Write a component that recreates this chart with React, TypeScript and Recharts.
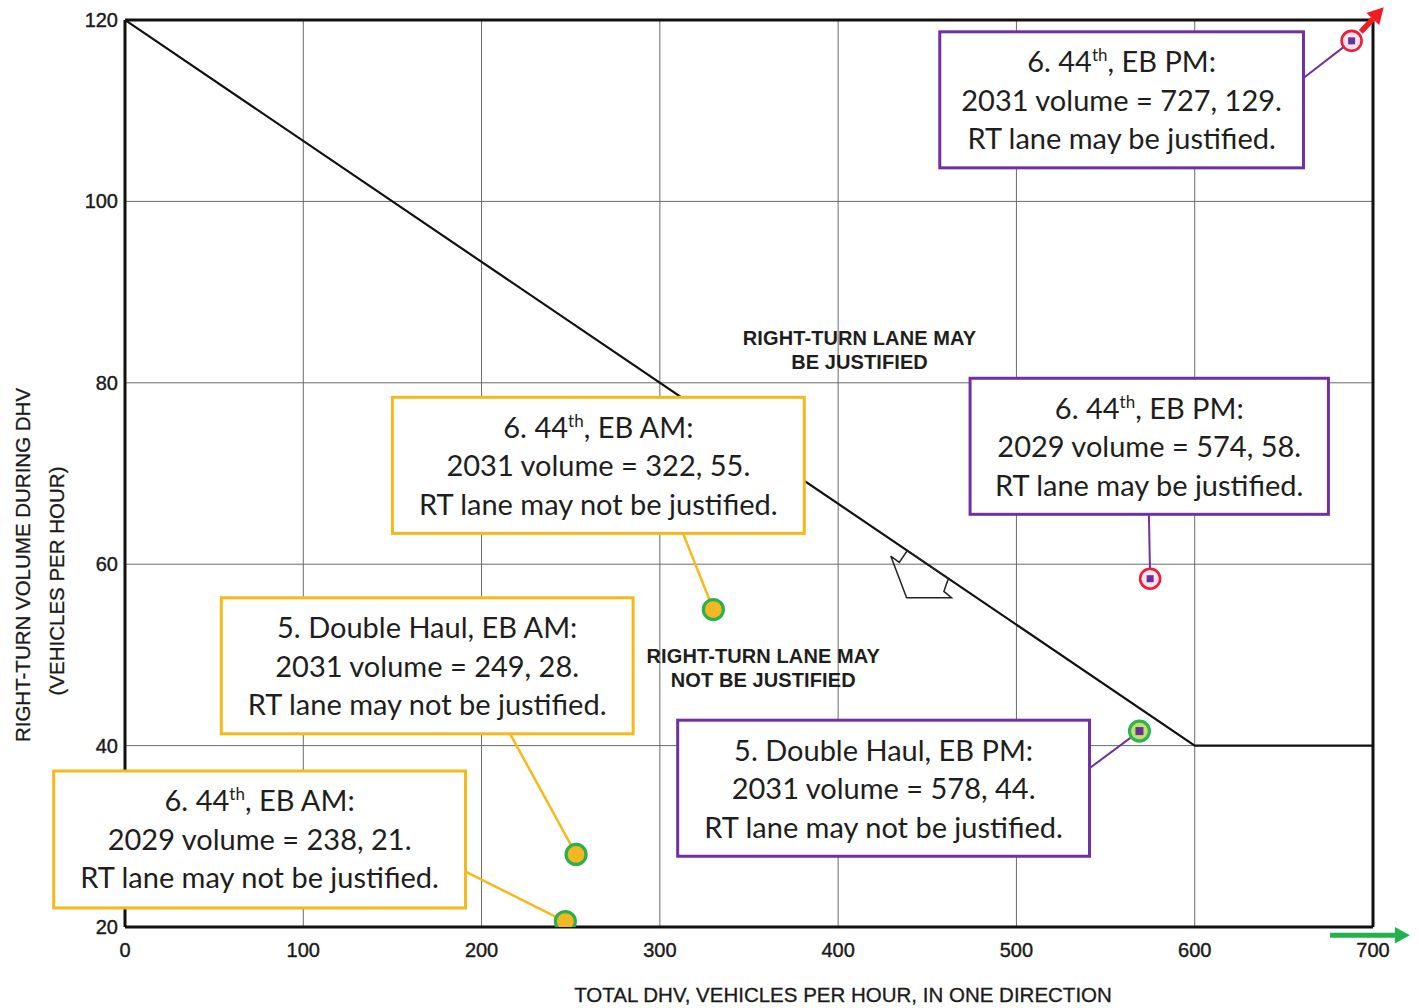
import React from "react";
import {
  ComposedChart, CartesianGrid, XAxis, YAxis, Line, Scatter,
  ReferenceArea, ReferenceLine, ReferenceDot,
} from "recharts";

const xTicks = [0, 100, 200, 300, 400, 500, 600, 700];
const yTicks = [20, 40, 60, 80, 100, 120];

// warrant boundary
const boundaryX = [0, 600, 700];
const boundaryY = [120, 40, 40];

// study points, as placed on the figure
const pointX = [688, 575, 569, 330, 253, 247];
const pointY = [117.7, 58.4, 41.6, 55, 28, 20.6];
const pointKind = ["red", "red", "pmGreen", "am", "am", "am"];

// callout boxes, one per point (same order)
const boxX1 = [457, 474, 310, 150, 54, -40];
const boxX2 = [661, 675, 541, 381, 285, 191];
const boxTop = [118.7, 80.5, 42.8, 78.4, 56.3, 37.2];
const boxBottom = [103.7, 65.5, 27.8, 63.4, 41.3, 22.1];
const boxColor = ["purple", "purple", "purple", "yellow", "yellow", "yellow"];
const boxHeadPre = ["6. 44", "6. 44", "5. Double Haul, EB PM:", "6. 44", "5. Double Haul, EB AM:", "6. 44"];
const boxHeadSup = ["th", "th", "", "th", "", "th"];
const boxHeadPost = [", EB PM:", ", EB PM:", "", ", EB AM:", "", ", EB AM:"];
const boxLine2 = [
  "2031 volume = 727, 129.",
  "2029 volume = 574, 58.",
  "2031 volume = 578, 44.",
  "2031 volume = 322, 55.",
  "2031 volume = 249, 28.",
  "2029 volume = 238, 21.",
];
const boxLine3 = [
  "RT lane may be justified.",
  "RT lane may be justified.",
  "RT lane may not be justified.",
  "RT lane may not be justified.",
  "RT lane may not be justified.",
  "RT lane may not be justified.",
];
const leaderX = [661, 574.3, 541, 313, 216, 191];
const leaderY = [113.6, 65.5, 37.5, 63.4, 41.3, 26.1];

// region notes
const regionX = [412, 358];
const regionY = [83.6, 48.6];
const regionLine1 = ["RIGHT-TURN LANE MAY", "RIGHT-TURN LANE MAY"];
const regionLine2 = ["BE JUSTIFIED", "NOT BE JUSTIFIED"];

// open pointer drawn against the boundary
const pointerX = [429.5, 434.3, 438.8, 461.8, 459.3, 463.6, 438.4, 429.5];
const pointerY = [60.9, 60.2, 61.5, 58.4, 57.0, 56.3, 56.3, 60.9];

// off-scale arrows: [x1, y1, x2, y2]
const redArrow = [693.2, 118.7, 706, 121.4];
const greenArrow = [675.9, 19.1, 720.7, 19.1];

const COLORS: Record<string, string> = { purple: "#7030a0", yellow: "#f6b91a" };
const BOX_FONT = "Lato, 'Open Sans', sans-serif";
const AXIS_FONT = "'Liberation Sans', Arial, sans-serif";

const boundary = boundaryX.map((x, i) => ({ x, y: boundaryY[i] }));
const pointer = pointerX.map((x, i) => ({ x, y: pointerY[i] }));
const points = pointX.map((x, i) => ({ x, y: pointY[i], kind: pointKind[i] }));

function XTick(p: any) {
  return (
    <text x={p.x} y={p.y} dy={30} textAnchor="middle" fontFamily={AXIS_FONT}
      fontSize={20} fill="#1a1a1a" stroke="#1a1a1a" strokeWidth={0.4}>
      {p.payload.value}
    </text>
  );
}

function YTick(p: any) {
  return (
    <text x={p.x - 7} y={p.y} dy={7} textAnchor="end" fontFamily={AXIS_FONT}
      fontSize={20} fill="#1a1a1a" stroke="#1a1a1a" strokeWidth={0.4}>
      {p.payload.value}
    </text>
  );
}

function PointMark(p: any) {
  const { cx, cy, payload } = p;
  if (payload.kind === "am") {
    return <circle cx={cx} cy={cy} r={10} fill="#f2b824" stroke="#2bb04a" strokeWidth={3.2} />;
  }
  if (payload.kind === "pmGreen") {
    return (
      <g>
        <circle cx={cx} cy={cy} r={10} fill="#bde36c" stroke="#2fb54b" strokeWidth={3.2} />
        <rect x={cx - 4} y={cy - 4} width={8} height={8} fill="#6a2fa0" />
      </g>
    );
  }
  return (
    <g>
      <circle cx={cx} cy={cy} r={10} fill="#fbe4ea" stroke="#ee1c3a" strokeWidth={2.6} />
      <rect x={cx - 3.5} y={cy - 3.5} width={7} height={7} fill="#6a2fa0" />
    </g>
  );
}

function makeBox(i: number) {
  return (p: any) => {
    const cx = p.x + p.width / 2;
    const t = { textAnchor: "middle" as const, fontFamily: BOX_FONT, fontSize: 29, fill: "#1e1e1e" };
    return (
      <g>
        <rect x={p.x} y={p.y} width={p.width} height={p.height} fill="#fff"
          stroke={COLORS[boxColor[i]]} strokeWidth={3} />
        <text x={cx} y={p.y + 40.5} {...t}>
          <tspan>{boxHeadPre[i]}</tspan>
          {boxHeadSup[i] && <tspan dy={-11} fontSize={17}>{boxHeadSup[i]}</tspan>}
          {boxHeadPost[i] && <tspan dy={boxHeadSup[i] ? 11 : 0}>{boxHeadPost[i]}</tspan>}
        </text>
        <text x={cx} y={p.y + 79} {...t}>{boxLine2[i]}</text>
        <text x={cx} y={p.y + 117.5} {...t}>{boxLine3[i]}</text>
      </g>
    );
  };
}

function makeArrow(color: string, width: number, head: number) {
  return (p: any) => {
    const { x1, y1, x2, y2 } = p;
    const a = Math.atan2(y2 - y1, x2 - x1);
    const bx = x2 - head * Math.cos(a);
    const by = y2 - head * Math.sin(a);
    const nx = -Math.sin(a) * head * 0.55;
    const ny = Math.cos(a) * head * 0.55;
    return (
      <g>
        <line x1={x1} y1={y1} x2={bx} y2={by} stroke={color} strokeWidth={width} />
        <polygon points={`${x2},${y2} ${bx + nx},${by + ny} ${bx - nx},${by - ny}`} fill={color} />
      </g>
    );
  };
}

function makeRegion(i: number) {
  return (p: any) => {
    const t = {
      textAnchor: "middle" as const, fontFamily: AXIS_FONT, fontSize: 20, fontWeight: 700,
      fill: "#1e1e1e", letterSpacing: 0.1,
    };
    return (
      <g>
        <text x={p.cx} y={p.cy - 5} {...t}>{regionLine1[i]}</text>
        <text x={p.cx} y={p.cy + 19} {...t}>{regionLine2[i]}</text>
      </g>
    );
  };
}

export default function App() {
  const titleStyle: React.CSSProperties = {
    position: "absolute", whiteSpace: "nowrap", fontFamily: AXIS_FONT,
    fontSize: 20.5, color: "#1a1a1a", lineHeight: 1, WebkitTextStroke: "0.3px #1a1a1a",
  };
  return (
    <div style={{ position: "absolute", left: 0, top: 0, width: 1419, height: 1008, background: "#fff" }}>
      <ComposedChart width={1419} height={1008} margin={{ top: 20, right: 46, bottom: 0, left: 0 }}>
        <CartesianGrid stroke="#6a6a6a" strokeWidth={1} zIndex={-100} />
        <XAxis dataKey="x" type="number" domain={[0, 700]} ticks={xTicks} allowDataOverflow
          height={81} tickSize={0} tickMargin={0} tick={<XTick />} tickLine={false}
          axisLine={{ stroke: "#111", strokeWidth: 3 }} />
        <YAxis dataKey="y" type="number" domain={[20, 120]} ticks={yTicks} allowDataOverflow
          width={125} tickSize={0} tickMargin={0} tick={<YTick />} tickLine={false}
          axisLine={{ stroke: "#111", strokeWidth: 3 }} />
        <ReferenceLine y={120} stroke="#111" strokeWidth={3} zIndex={500} />
        <ReferenceLine x={700} stroke="#111" strokeWidth={3} zIndex={500} />

        <Line data={boundary} dataKey="y" type="linear" stroke="#111" strokeWidth={2.2}
          dot={false} activeDot={false} isAnimationActive={false} zIndex={400} />
        <Line data={pointer} dataKey="y" type="linear" stroke="#222" strokeWidth={1.5}
          dot={false} activeDot={false} isAnimationActive={false} zIndex={400} />

        {regionX.map((x, i) => (
          <ReferenceDot key={`r${i}`} x={x} y={regionY[i]} r={0} ifOverflow="visible"
            shape={makeRegion(i)} zIndex={450} />
        ))}

        {boxX1.map((x, i) => (
          <ReferenceLine key={`l${i}`} ifOverflow="visible" zIndex={540}
            segment={[{ x: leaderX[i], y: leaderY[i] }, { x: pointX[i], y: pointY[i] }]}
            stroke={COLORS[boxColor[i]]} strokeWidth={boxColor[i] === "yellow" ? 2.5 : 2} />
        ))}
        {boxX1.map((x, i) => (
          <ReferenceArea key={`b${i}`} x1={x} x2={boxX2[i]} y1={boxBottom[i]} y2={boxTop[i]}
            ifOverflow="visible" shape={makeBox(i)} zIndex={550} />
        ))}

        <Scatter data={points} dataKey="y" shape={PointMark} isAnimationActive={false} zIndex={600} />

        <ReferenceLine ifOverflow="visible" zIndex={650}
          segment={[{ x: redArrow[0], y: redArrow[1] }, { x: redArrow[2], y: redArrow[3] }]}
          shape={makeArrow("#f01c24", 5.5, 16)} />
        <ReferenceLine ifOverflow="visible" zIndex={650}
          segment={[{ x: greenArrow[0], y: greenArrow[1] }, { x: greenArrow[2], y: greenArrow[3] }]}
          shape={makeArrow("#22b24c", 5, 15)} />
      </ComposedChart>

      <div style={{ ...titleStyle, left: 843, top: 995, transform: "translate(-50%, -50%)" }}>
        TOTAL DHV, VEHICLES PER HOUR, IN ONE DIRECTION
      </div>
      <div style={{ ...titleStyle, left: 23, top: 565, transform: "translate(-50%, -50%) rotate(-90deg)" }}>
        RIGHT-TURN VOLUME DURING DHV
      </div>
      <div style={{ ...titleStyle, left: 57, top: 581, transform: "translate(-50%, -50%) rotate(-90deg)" }}>
        (VEHICLES PER HOUR)
      </div>
    </div>
  );
}
